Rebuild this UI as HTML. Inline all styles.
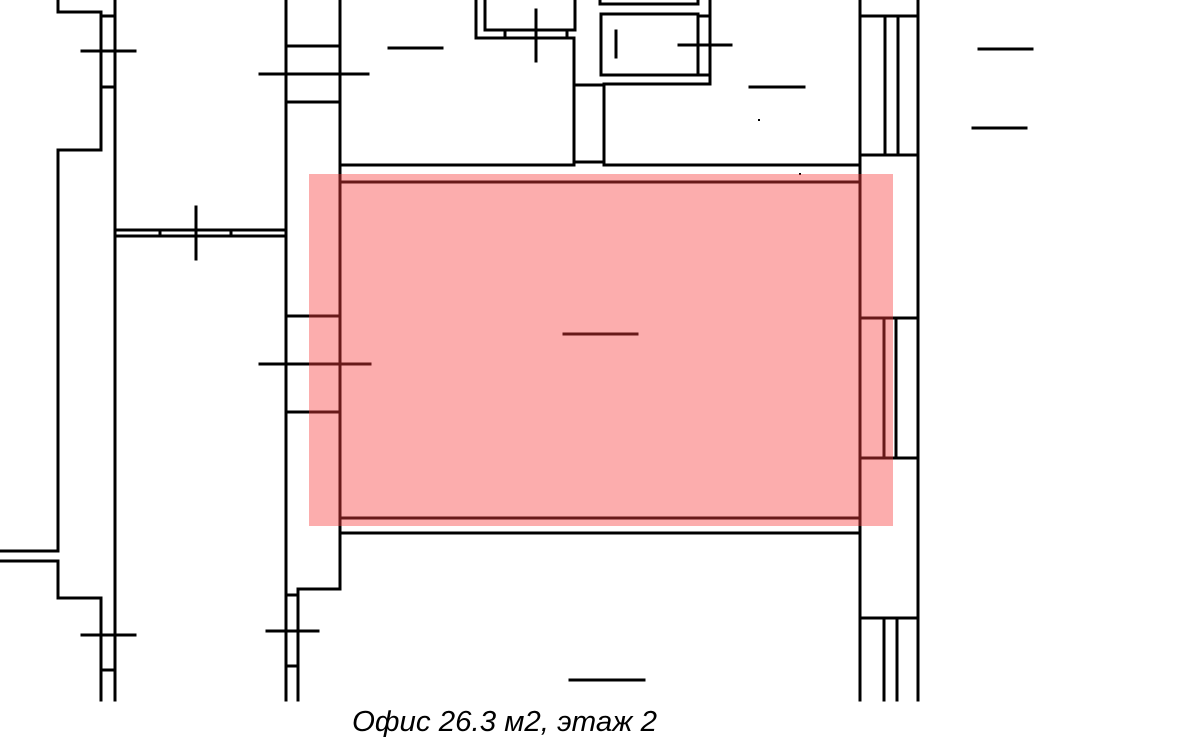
<!DOCTYPE html>
<html><head><meta charset="utf-8"><style>html,body{margin:0;padding:0;background:#fff}svg{display:block}</style></head>
<body>
<svg width="1200" height="745" viewBox="0 0 1200 745" xmlns="http://www.w3.org/2000/svg">
<g stroke="#000" stroke-width="3" fill="none" stroke-linecap="square">
<!-- left block -->
<polyline points="58,0 58,12 101,12 101,150 58,150 58,551 0,551"/>
<polyline points="0,561 58,561 58,598 101,598 101,700"/>
<line x1="115" y1="0" x2="115" y2="700"/>
<line x1="101" y1="16" x2="115" y2="16"/>
<line x1="101" y1="87" x2="115" y2="87"/>
<line x1="101" y1="670" x2="115" y2="670"/>
<line x1="82" y1="51" x2="135" y2="51"/>
<line x1="82" y1="635" x2="135" y2="635"/>
<line x1="115" y1="230" x2="285" y2="230"/>
<line x1="115" y1="236" x2="285" y2="236"/>
<line x1="160" y1="230" x2="160" y2="236"/>
<line x1="231" y1="230" x2="231" y2="236"/>
<line x1="196" y1="207" x2="196" y2="259"/>
<!-- corridor left -->
<line x1="286" y1="0" x2="286" y2="700"/>
<line x1="340" y1="0" x2="340" y2="533"/>
<line x1="286" y1="46" x2="340" y2="46"/>
<line x1="286" y1="102" x2="340" y2="102"/>
<line x1="260" y1="74" x2="368" y2="74"/>
<line x1="286" y1="316" x2="340" y2="316"/>
<line x1="286" y1="412" x2="340" y2="412"/>
<line x1="260" y1="364" x2="370" y2="364"/>
<polyline points="860,533 340,533 340,589 298,589 298,700"/>
<line x1="286" y1="595" x2="298" y2="595"/>
<line x1="286" y1="666" x2="298" y2="666"/>
<line x1="267" y1="631" x2="318" y2="631"/>
<!-- top middle -->
<line x1="340" y1="165" x2="574" y2="165"/>
<line x1="604" y1="165" x2="860" y2="165"/>
<polyline points="485,0 485,30 575,30 575,0"/>
<polyline points="476,0 476,38 574,38 574,165"/>
<line x1="505" y1="30" x2="505" y2="38"/>
<line x1="567" y1="30" x2="567" y2="38"/>
<line x1="536" y1="10" x2="536" y2="61"/>
<line x1="389" y1="48" x2="442" y2="48"/>
<line x1="574" y1="85" x2="604" y2="85"/>
<line x1="574" y1="162" x2="604" y2="162"/>
<line x1="604" y1="85" x2="604" y2="165"/>
<polyline points="600,0 600,4 698,4 698,0"/>
<rect x="601" y="14" width="97" height="61"/>
<polyline points="710,0 710,84 604,84"/>
<line x1="698" y1="16" x2="710" y2="16"/>
<line x1="698" y1="75" x2="710" y2="75"/>
<line x1="616" y1="31" x2="616" y2="57"/>
<line x1="679" y1="45" x2="731" y2="45"/>
<line x1="750" y1="87" x2="804" y2="87"/>
<line x1="759" y1="120" x2="759" y2="120" stroke-width="2"/>
<line x1="800" y1="174" x2="800" y2="174" stroke-width="2"/>
<line x1="979" y1="49" x2="1032" y2="49"/>
<line x1="973" y1="128" x2="1026" y2="128"/>
<!-- room -->
<line x1="341" y1="182" x2="860" y2="182"/>
<line x1="341" y1="518" x2="860" y2="518"/>
<line x1="564" y1="334" x2="637" y2="334"/>
<line x1="570" y1="680" x2="644" y2="680"/>
<!-- right column -->
<line x1="860" y1="0" x2="860" y2="700"/>
<line x1="918" y1="0" x2="918" y2="700"/>
<line x1="860" y1="16" x2="918" y2="16"/>
<line x1="860" y1="155" x2="918" y2="155"/>
<line x1="860" y1="318" x2="918" y2="318"/>
<line x1="860" y1="458" x2="918" y2="458"/>
<line x1="860" y1="618" x2="918" y2="618"/>
<line x1="885" y1="16" x2="885" y2="155"/>
<line x1="898" y1="16" x2="898" y2="155"/>
<line x1="884" y1="318" x2="884" y2="458"/>
<line x1="896" y1="318" x2="896" y2="458"/>
<line x1="884" y1="618" x2="884" y2="700"/>
<line x1="897" y1="618" x2="897" y2="700"/>
</g>
<rect x="309" y="174" width="584" height="352" fill="rgb(248,60,60)" opacity="0.42"/>
<text x="352" y="731" font-family="'Liberation Sans','DejaVu Sans',sans-serif" font-style="italic" font-size="29" fill="#000" textLength="305" lengthAdjust="spacingAndGlyphs">Офис 26.3 м2, этаж 2</text>
</svg>
</body></html>
